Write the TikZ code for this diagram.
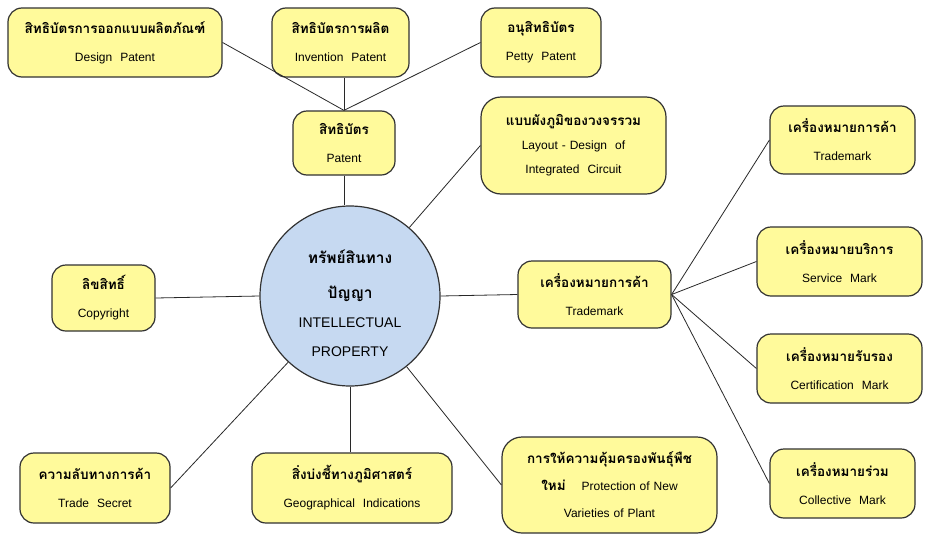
\documentclass[tikz,border=0pt]{standalone}
\usepackage{fontspec}
\setmainfont{Liberation Sans}
\newfontfamily\thai[Script=Thai]{Loma}
\definecolor{boxc}{RGB}{255,250,155}
\definecolor{circc}{RGB}{198,217,241}
\definecolor{bordc}{RGB}{50,50,50}
\definecolor{linec}{RGB}{40,40,40}
\newcommand\thl[1]{{\thai\bfseries\fontsize{13.5}{28}\selectfont #1}}
\newcommand\thc[1]{{\thai\bfseries\fontsize{15.5}{29}\selectfont #1}}
\tikzset{
  box/.style={draw=bordc, line width=1.2pt, fill=boxc, rounded corners=14pt,
    align=center, inner sep=0pt, font=\fontsize{12}{28}\selectfont},
  conn/.style={draw=linec, line width=0.8pt},
}
\begin{document}
\begin{tikzpicture}[x=1pt,y=-1pt]
\useasboundingbox (0,0) rectangle (936,541);
\fill[white] (0,0) rectangle (936,541);

\node[box, minimum width=214pt, minimum height=69pt, text width=205pt] (design) at (115,42.5)
  {\thl{สิทธิบัตรการออกแบบผลิตภัณฑ์}\\Design\ \ Patent};
\node[box, minimum width=137pt, minimum height=69pt, text width=130pt] (invention) at (340.5,42.5)
  {\thl{สิทธิบัตรการผลิต}\\Invention\ \ Patent};
\node[box, minimum width=120pt, minimum height=69pt, text width=112pt] (petty) at (541,42.5)
  {\thl{อนุสิทธิบัตร}\\Petty\ \ Patent};
\node[box, minimum width=102pt, minimum height=64pt, text width=95pt] (patent) at (344,143)
  {\thl{สิทธิบัตร}\\Patent};
\node[box, rounded corners=20pt, minimum width=185pt, minimum height=97pt, text width=178pt,
  font=\fontsize{12}{24}\selectfont] (layout) at (573.5,145.5)
  {\thl{แบบผังภูมิของวงจรรวม}\\Layout - Design\ \ of\\Integrated\ \ Circuit};
\node[box, minimum width=145pt, minimum height=68pt, text width=138pt] (tm1) at (842.5,140)
  {\thl{เครื่องหมายการค้า}\\Trademark};
\node[box, minimum width=165pt, minimum height=69pt, text width=158pt] (sm) at (839.5,261.5)
  {\thl{เครื่องหมายบริการ}\\Service\ \ Mark};
\node[box, minimum width=153pt, minimum height=67pt, text width=146pt] (tm) at (594.5,294.5)
  {\thl{เครื่องหมายการค้า}\\Trademark};
\node[box, minimum width=165pt, minimum height=69pt, text width=158pt] (cm) at (839.5,368.5)
  {\thl{เครื่องหมายรับรอง}\\Certification\ \ Mark};
\node[box, minimum width=145pt, minimum height=69pt, text width=138pt] (cl) at (842.5,483.5)
  {\thl{เครื่องหมายร่วม}\\Collective\ \ Mark};
\node[box, minimum width=103pt, minimum height=66pt, text width=96pt] (cr) at (103.5,298)
  {\thl{ลิขสิทธิ์}\\Copyright};
\node[circle, draw=bordc, line width=1.2pt, fill=circc, minimum size=180pt, inner sep=0pt,
  align=center, text width=118pt, font=\fontsize{14}{29}\selectfont] (ip) at (350,296)
  {};
\node[align=center, text width=118pt, inner sep=0pt, font=\fontsize{14}{29}\selectfont]
  (iptext) at (350,303)
  {\thc{ทรัพย์สินทาง}\\[6pt]\thc{ปัญญา}\\INTELLECTUAL\\PROPERTY};
\node[box, minimum width=150pt, minimum height=70pt, text width=143pt] (ts) at (95,488)
  {\thl{ความลับทางการค้า}\\Trade\ \ Secret};
\node[box, minimum width=200pt, minimum height=70pt, text width=193pt] (geo) at (352,488)
  {\thl{สิ่งบ่งชี้ทางภูมิศาสตร์}\\Geographical\ \ Indications};
\node[box, rounded corners=20pt, minimum width=215pt, minimum height=96pt, text width=205pt,
  font=\fontsize{12}{27}\selectfont] (prot) at (609.5,485)
  {\thl{การให้ความคุ้มครองพันธุ์พืช}\\\thl{ใหม่}\quad\ Protection of New\\Varieties of Plant};

\draw[conn] (design.east) -- (patent.north);
\draw[conn] (petty.west) -- (patent.north);
\draw[conn] (patent.north) -- (patent.north |- invention.south);
\draw[conn] (patent.south) -- (patent.south |- ip.north);
\draw[conn] (ip) -- (layout.west);
\draw[conn] (ip.east) -- (tm.west);
\draw[conn] (tm.east) -- (tm1.west);
\draw[conn] (tm.east) -- (sm.west);
\draw[conn] (tm.east) -- (cm.west);
\draw[conn] (tm.east) -- (cl.west);
\draw[conn] (cr.east) -- (ip.west);
\draw[conn] (ip) -- (ts.east);
\draw[conn] (ip.south) -- (ip.south |- geo.north);
\draw[conn] (ip) -- (prot.west);
\end{tikzpicture}
\end{document}
